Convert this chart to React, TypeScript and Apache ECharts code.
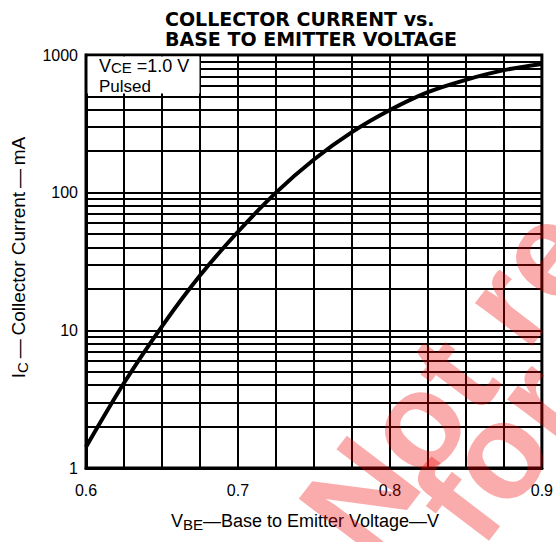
import React, { useEffect, useRef } from "react";
import * as echarts from "echarts";

// ---- data ----
const vbe = [0.6, 0.625, 0.65, 0.675, 0.7, 0.725, 0.75, 0.775, 0.8, 0.825, 0.85, 0.875, 0.9];
const icMilliAmp = [1.42, 4.14, 10.7, 25, 52, 100, 174, 275, 398, 537, 660, 776, 861];
const yMinorLines = [2, 3, 4, 5, 6, 7, 8, 9, 20, 30, 40, 50, 60, 70, 80, 90, 200, 300, 400, 500, 600, 700, 800, 900];
const xTickLabels = ["0.6", "0.7", "0.8", "0.9"];
const titleLines = ["COLLECTOR CURRENT vs.", "BASE TO EMITTER VOLTAGE"];

const FONT = "Liberation Sans, Arial, sans-serif";
const WM = "rgba(240,0,0,0.33)";

export default function App() {
  const ref = useRef<HTMLDivElement>(null);
  useEffect(() => {
    if (!ref.current) return;
    const chart = echarts.init(ref.current, undefined, { renderer: "svg" });
    const option: any = {
      animation: false,
      backgroundColor: "#fff",
      title: {
        text: titleLines.join("\n"),
        left: 160,
        top: 4,
        textStyle: {
          fontFamily: "DejaVu Sans, sans-serif",
          fontWeight: "bold",
          fontSize: 19,
          lineHeight: 20,
          color: "#000",
        },
      },
      grid: {
        left: 86,
        right: 12,
        top: 55,
        bottom: 74,
        show: true,
        borderColor: "#000",
        borderWidth: 3,
        backgroundColor: "#fff",
      },
      xAxis: {
        type: "value",
        min: 0.6,
        max: 0.9,
        interval: 0.1,
        name: "{n|V}{s|BE}{n|—Base to Emitter Voltage—V}",
        nameLocation: "middle",
        nameGap: 42,
        nameTextStyle: {
          padding: [0, 18, 0, 0],
          rich: {
            n: { fontSize: 18, fontFamily: FONT, color: "#000", lineHeight: 22 },
            s: { fontSize: 15, fontFamily: FONT, color: "#000", lineHeight: 12, verticalAlign: "bottom" },
          },
        },
        axisLine: { show: true, lineStyle: { color: "#000", width: 3 } },
        axisTick: { show: false },
        axisLabel: {
          color: "#000",
          fontSize: 16,
          fontFamily: FONT,
          margin: 14,
          formatter: (v: number) => {
            const s = v.toFixed(1);
            return xTickLabels.includes(s) ? s : "";
          },
        },
        splitLine: { show: true, lineStyle: { color: "#000", width: 2 } },
        minorTick: { show: false, splitNumber: 4 },
        minorSplitLine: { show: true, lineStyle: { color: "#000", width: 2 } },
      },
      yAxis: {
        type: "log",
        logBase: 10,
        min: 1,
        max: 1000,
        name: "{n|I}{s|C}{n|\u2009—\u2009Collector Current\u2009—\u2009mA}",
        nameLocation: "middle",
        nameGap: 56,
        nameTextStyle: {
          padding: [0, 0, 0, 8],
          rich: {
            n: { fontSize: 19, fontFamily: FONT, color: "#000", lineHeight: 24 },
            s: { fontSize: 15, fontFamily: FONT, color: "#000", lineHeight: 13, verticalAlign: "bottom" },
          },
        },
        axisLine: { show: true, lineStyle: { color: "#000", width: 3 } },
        axisTick: { show: false },
        axisLabel: {
          color: "#000",
          fontSize: 16,
          fontFamily: FONT,
          margin: 8,
          formatter: (v: number) => String(Math.round(v)),
        },
        splitLine: { show: true, lineStyle: { color: "#000", width: 2 } },
      },
      series: [
        {
          type: "line",
          data: vbe.map((v, i) => [v, icMilliAmp[i]]),
          smooth: 0.3,
          showSymbol: false,
          lineStyle: { color: "#000", width: 4 },
          z: 5,
          markLine: {
            silent: true,
            symbol: "none",
            label: { show: false },
            lineStyle: { color: "#000", width: 2, type: "solid" },
            data: yMinorLines.map((y) => ({ yAxis: y })),
            z: 3,
          },
        },
      ],
      graphic: [
        {
          type: "rect",
          z: 50,
          shape: { x: 87.5, y: 56.5, width: 112, height: 37 },
          style: { fill: "#fff" },
        },
        {
          type: "text",
          z: 51,
          x: 99,
          y: 57,
          style: {
            text: "{n|V}{s|CE}{n| =1.0 V}",
            rich: {
              n: { fontSize: 18, fontFamily: FONT, fill: "#000", lineHeight: 18 },
              s: { fontSize: 15, fontFamily: FONT, fill: "#000", lineHeight: 12, verticalAlign: "bottom" },
            },
          },
        },
        {
          type: "text",
          z: 51,
          x: 99,
          y: 78,
          style: { text: "Pulsed", fontSize: 17, fontFamily: FONT, fill: "#000" },
        },
        {
          type: "group",
          x: 384,
          y: 575,
          rotation: 0.92,
          z: 100,
          children: [
            {
              type: "text",
              x: 0,
              y: 0,
              z: 100,
              style: {
                text: "Not recommended",
                fontSize: 135,
                fontWeight: "bold",
                fontFamily: FONT,
                fill: WM,
                verticalAlign: "bottom",
              },
            },
            {
              type: "text",
              x: 78,
              y: 84,
              z: 100,
              style: {
                text: "for new designs",
                fontSize: 135,
                fontWeight: "bold",
                fontFamily: FONT,
                fill: WM,
                verticalAlign: "bottom",
              },
            },
          ],
        },
      ],
    };
    chart.setOption(option);
    return () => chart.dispose();
  }, []);
  return <div ref={ref} style={{ width: 556, height: 542, position: "absolute", left: 0, top: 0 }} />;
}
